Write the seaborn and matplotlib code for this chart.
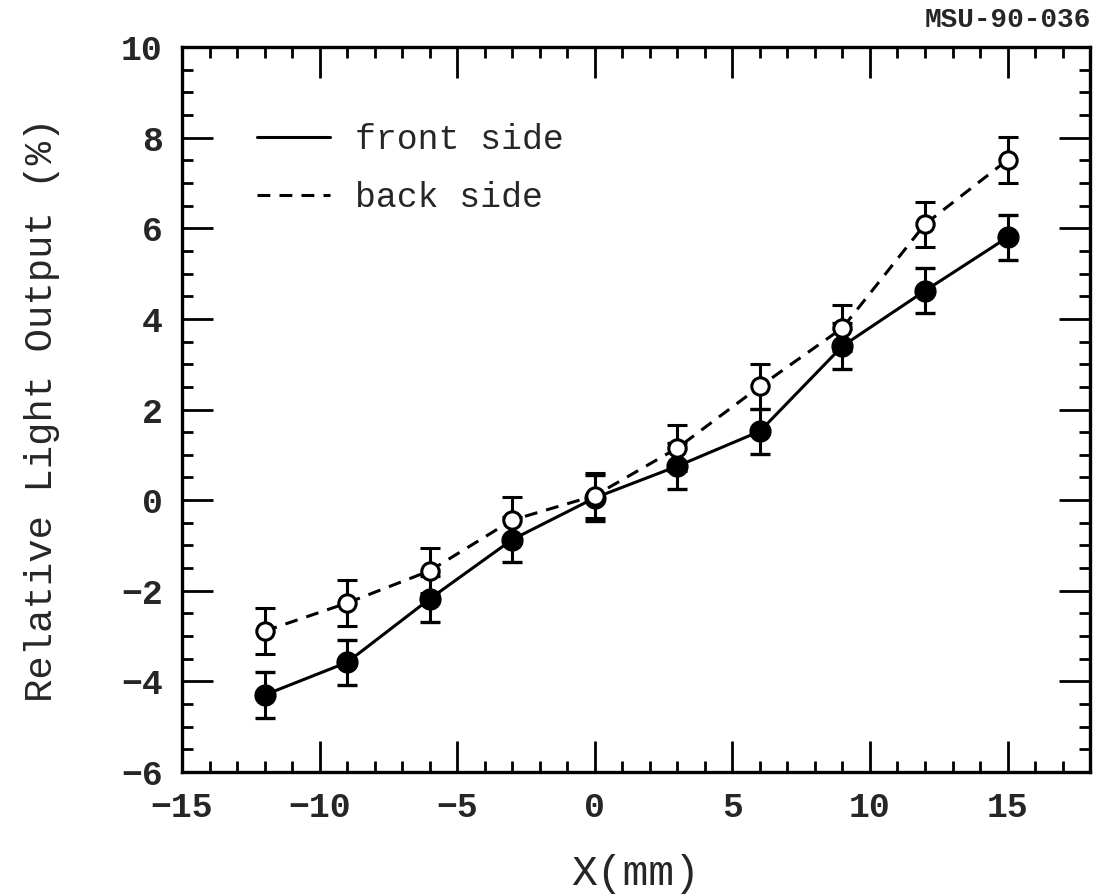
import numpy as np
import pandas as pd
import matplotlib
matplotlib.use("Agg")
import matplotlib.pyplot as plt
from matplotlib.lines import Line2D
from matplotlib.ticker import MultipleLocator
import seaborn as sns

# Scan position across the crystal (mm)
x_mm = [-12, -9, -6, -3, 0, 3, 6, 9, 12, 15]
# Relative light output (%) read at each position
front_side = [-4.3, -3.58, -2.18, -0.87, 0.05, 0.75, 1.52, 3.4, 4.62, 5.8]
back_side = [-2.89, -2.27, -1.56, -0.44, 0.1, 1.15, 2.51, 3.8, 6.09, 7.51]
# Uncertainty on each point (%)
front_err = [0.5] * 10
back_err = [0.5] * 10

sns.set_theme(style="ticks")
plt.rcParams["font.family"] = ["Liberation Mono", "DejaVu Sans Mono"]

df = pd.DataFrame({
    "x": x_mm * 2,
    "y": front_side + back_side,
    "side": ["front side"] * len(x_mm) + ["back side"] * len(x_mm),
})

fig = plt.figure(figsize=(11.04, 8.96), dpi=100)
ax = fig.add_axes([0.1649, 0.1384, 0.8225, 0.8091])

sns.lineplot(data=df, x="x", y="y", style="side", color="black",
             dashes={"front side": "", "back side": (4.2, 3.0)},
             linewidth=2.2, legend=False, ax=ax, sort=False)

ax.errorbar(x_mm, front_side, yerr=front_err, fmt="o", color="black",
            markersize=15, markerfacecolor="black", capsize=7,
            elinewidth=2.2, capthick=2.4, zorder=4)
ax.errorbar(x_mm, back_side, yerr=back_err, fmt="o", color="black",
            markersize=12.5, markerfacecolor="white", markeredgewidth=2.2,
            capsize=7, elinewidth=2.2, capthick=2.4, zorder=4)

ax.set_xlim(-15, 18)
ax.set_ylim(-6, 10)
ax.xaxis.set_major_locator(MultipleLocator(5))
ax.xaxis.set_minor_locator(MultipleLocator(1))
ax.yaxis.set_major_locator(MultipleLocator(2))
ax.yaxis.set_minor_locator(MultipleLocator(0.5))
ax.tick_params(which="both", direction="in", top=True, right=True,
               width=2, color="black")
ax.tick_params(which="major", length=22, labelsize=25)
ax.tick_params(which="minor", length=8)
ax.tick_params(axis="x", which="major", pad=14)
ax.tick_params(axis="y", which="major", pad=14)
for lab in ax.get_xticklabels() + ax.get_yticklabels():
    lab.set_fontweight("bold")
for sp in ax.spines.values():
    sp.set_linewidth(2.4)
    sp.set_color("black")

ax.set_xlabel("X(mm)", fontsize=31)
ax.set_ylabel("Relative Light Output (%)", fontsize=28)
ax.xaxis.set_label_coords(0.5, -0.113)
ax.yaxis.set_label_coords(-0.134, 0.5)

handles = [Line2D([], [], color="black", lw=2.2),
           Line2D([], [], color="black", lw=2.2, dashes=(4.2, 3.0))]
ax.legend(handles, ["front side", "back side"], loc="upper left",
          bbox_to_anchor=(0.083, 0.895), frameon=False,
          handlelength=2.1, handletextpad=0.7, labelspacing=0.72,
          borderpad=0, borderaxespad=0,
          prop={"family": ["Liberation Mono"], "size": 25})

fig.text(0.988, 0.978, "MSU-90-036", ha="right", va="center",
         fontsize=20, fontweight="bold")

fig.savefig("out.png", dpi=100)
